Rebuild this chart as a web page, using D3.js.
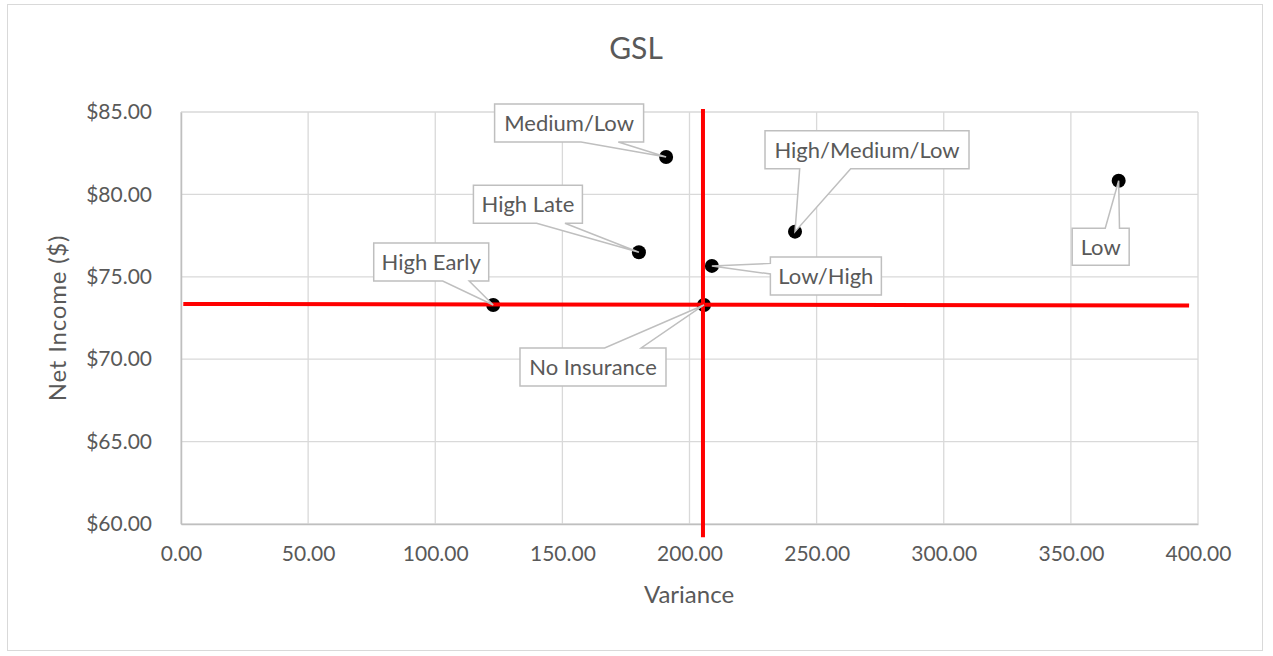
<!DOCTYPE html>
<html>
<head>
<meta charset="utf-8">
<script src="https://cdn.jsdelivr.net/npm/d3@7"></script>
<style>
  body { margin: 0; background: #fff; }
  text { font-family: Lato, "Open Sans", sans-serif; fill: #595959; }
</style>
</head>
<body>
<svg></svg>
<script>
// Data
const labels = ["Medium/Low", "High Late", "High Early", "No Insurance", "Low/High", "High/Medium/Low", "Low"];
const variance = [190.8, 180.1, 122.8, 205.7, 208.8, 241.5, 368.8];
const netIncome = [82.27, 76.49, 73.29, 73.29, 75.66, 77.74, 80.83];

// Red reference lines (endpoints in data units)
const hLineX = [0.9, 396.5];
const hLineY = [73.35, 73.26];
const vLineX = [205.3, 205.3];
const vLineY = [85.18, 59.19];

const xTicks = [0, 50, 100, 150, 200, 250, 300, 350, 400];
const yTicks = [60, 65, 70, 75, 80, 85];

// Callout layout: box offset from point, box size, wedge side and base fractions
const calloutLayout = {
    "Medium/Low":      { dx: -97,  dy: -34, w: 149, h: 38, side: "bottom", f: [0.58, 0.83] },
    "High Late":       { dx: -111, dy: -48, w: 109, h: 38, side: "bottom", f: [0.58, 0.84] },
    "High Early":      { dx: -62,  dy: -43, w: 115, h: 38, side: "bottom", f: [0.60, 0.83] },
    "No Insurance":    { dx: -111, dy: 62,  w: 146, h: 38, side: "top",    f: [0.58, 0.83] },
    "Low/High":        { dx: 114,  dy: 10,  w: 111, h: 38, side: "left",   f: [0.17, 0.45] },
    "High/Medium/Low": { dx: 72,   dy: -82, w: 204, h: 38, side: "bottom", f: [0.17, 0.42] },
    "Low":             { dx: -18,  dy: 66,  w: 57,  h: 37, side: "top",    f: [0.58, 0.83] }
};

const svgWidth = 1273;
const svgHeight = 656;
const margin = { top: 112, right: 75, bottom: 132, left: 181 };
const w = svgWidth - margin.left - margin.right;
const h = svgHeight - margin.top - margin.bottom;

const svg = d3.select("svg")
    .attr("width", svgWidth)
    .attr("height", svgHeight);

// Chart frame
svg.append("rect")
    .attr("x", 7.5).attr("y", 4.5)
    .attr("width", 1255).attr("height", 646)
    .attr("fill", "#fff")
    .attr("stroke", "#d9d9d9");

// Title
svg.append("text")
    .attr("x", 636).attr("y", 59)
    .attr("text-anchor", "middle")
    .style("font-size", "30px")
    .text("GSL");

const chartGroup = svg.append("g")
    .attr("transform", `translate(${margin.left},${margin.top})`);

// Scales
const xScale = d3.scaleLinear().domain([0, 400]).range([0, w]);
const yScale = d3.scaleLinear().domain([60, 85]).range([h, 0]);

// Gridlines
chartGroup.append("g")
    .selectAll("line")
    .data(xTicks)
    .join("line")
    .attr("x1", d => xScale(d)).attr("x2", d => xScale(d))
    .attr("y1", 0).attr("y2", h)
    .attr("stroke", "#d9d9d9").attr("stroke-width", 1.3);

chartGroup.append("g")
    .selectAll("line")
    .data(yTicks)
    .join("line")
    .attr("x1", 0).attr("x2", w)
    .attr("y1", d => yScale(d)).attr("y2", d => yScale(d))
    .attr("stroke", "#d9d9d9").attr("stroke-width", 1.3);

// Axes
const xAxis = d3.axisBottom(xScale).tickValues(xTicks).tickFormat(d3.format(".2f")).tickSize(0).tickPadding(22);
const xg = chartGroup.append("g")
    .attr("transform", `translate(0,${h})`)
    .call(xAxis);
xg.select(".domain").attr("stroke", "#bfbfbf").attr("stroke-width", 1.5);
xg.selectAll("text").style("font-size", "21px").attr("fill", "#595959");

const yAxis = d3.axisLeft(yScale).tickValues(yTicks).tickFormat(d => "$" + d3.format(".2f")(d)).tickSize(0).tickPadding(29);
const yg = chartGroup.append("g").call(yAxis);
yg.select(".domain").attr("stroke", "#bfbfbf").attr("stroke-width", 1.5);
yg.selectAll("text").style("font-size", "21px").attr("fill", "#595959");

// Axis titles
svg.append("text")
    .attr("x", 689).attr("y", 603)
    .attr("text-anchor", "middle")
    .style("font-size", "24px")
    .text("Variance");

svg.append("text")
    .attr("transform", `translate(66,${margin.top + h / 2}) rotate(-90)`)
    .attr("text-anchor", "middle")
    .style("font-size", "24px")
    .style("letter-spacing", "0.8px")
    .text("Net Income ($)");

// Points
const points = labels.map((l, i) => ({ label: l, x: variance[i], y: netIncome[i] }));

chartGroup.append("g")
    .selectAll("circle")
    .data(points)
    .join("circle")
    .attr("cx", d => xScale(d.x))
    .attr("cy", d => yScale(d.y))
    .attr("r", 7)
    .attr("fill", "#000");

// Red reference lines
const line = d3.line().x(d => xScale(d[0])).y(d => yScale(d[1]));
chartGroup.append("path")
    .datum(d3.zip(hLineX, hLineY))
    .attr("d", line)
    .attr("fill", "none").attr("stroke", "#ff0000").attr("stroke-width", 4);
chartGroup.append("path")
    .datum(d3.zip(vLineX, vLineY))
    .attr("d", line)
    .attr("fill", "none").attr("stroke", "#ff0000").attr("stroke-width", 4);

// Callouts
function calloutPath(px, py, c) {
    const cx = px + c.dx, cy = py + c.dy;
    const x0 = cx - c.w / 2, x1 = cx + c.w / 2;
    const y0 = cy - c.h / 2, y1 = cy + c.h / 2;
    const tip = [px, py];
    let pts;
    if (c.side === "bottom") {
        const a = x0 + c.f[0] * c.w, b = x0 + c.f[1] * c.w;
        pts = [[x0, y0], [x1, y0], [x1, y1], [b, y1], tip, [a, y1], [x0, y1]];
    } else if (c.side === "top") {
        const a = x0 + c.f[0] * c.w, b = x0 + c.f[1] * c.w;
        pts = [[x0, y0], [a, y0], tip, [b, y0], [x1, y0], [x1, y1], [x0, y1]];
    } else {
        const a = y0 + c.f[0] * c.h, b = y0 + c.f[1] * c.h;
        pts = [[x0, y0], [x1, y0], [x1, y1], [x0, y1], [x0, b], tip, [x0, a]];
    }
    return "M" + pts.map(p => p.join(",")).join("L") + "Z";
}

const callouts = chartGroup.append("g")
    .selectAll("g")
    .data(points)
    .join("g");

callouts.append("path")
    .attr("d", d => calloutPath(xScale(d.x), yScale(d.y), calloutLayout[d.label]))
    .attr("fill", "#fff")
    .attr("stroke", "#bfbfbf")
    .attr("stroke-width", 1.5);

callouts.append("text")
    .attr("x", d => xScale(d.x) + calloutLayout[d.label].dx)
    .attr("y", d => yScale(d.y) + calloutLayout[d.label].dy)
    .attr("dy", "0.36em")
    .attr("text-anchor", "middle")
    .style("font-size", "22px")
    .text(d => d.label);
</script>
</body>
</html>
